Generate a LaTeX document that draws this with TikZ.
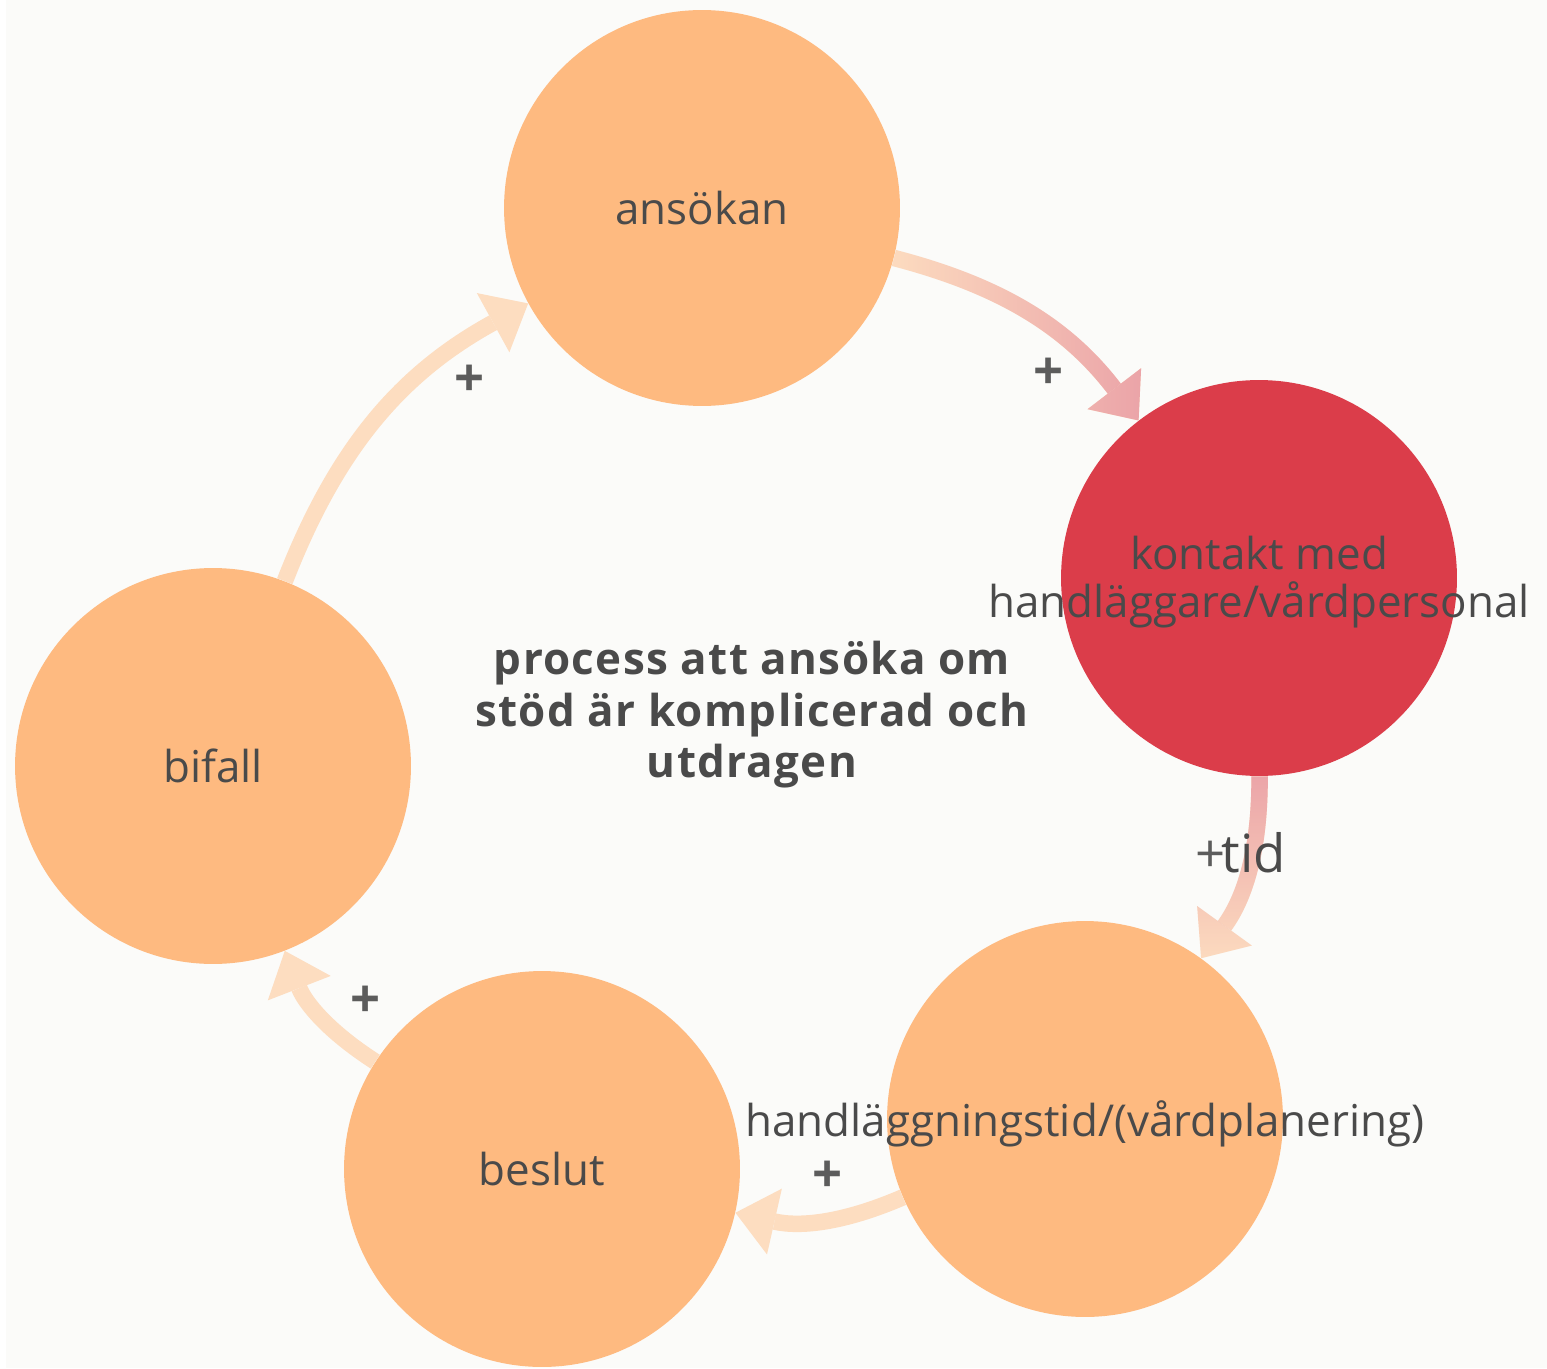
\documentclass[tikz,border=0pt]{standalone}
\usepackage{fontspec}
\setmainfont{Open Sans}
\usetikzlibrary{arrows.meta,fadings}

\definecolor{bgc}{HTML}{FBFBF9}
\definecolor{orangec}{HTML}{FEBA80}
\definecolor{redc}{HTML}{DB3D4A}
\definecolor{peachc}{HTML}{FDDDC0}
\definecolor{pinkc}{HTML}{EBA3A8}
\definecolor{textc}{HTML}{4A4A4A}
\definecolor{plusc}{HTML}{5C5C5C}

\begin{document}
\begin{tikzpicture}[x=0.02cm,y=-0.02cm,
    main node/.style={circle,fill=orangec,minimum size=7.92cm,inner sep=0pt},
    txt/.style={text=textc,font=\fontsize{25}{27.2}\selectfont,align=center},
    plus node/.style={text=plusc,font=\fontsize{30}{32}\selectfont\bfseries},
    conn/.style={line width=0.33cm,-{Triangle[length=0.8cm,width=1.35cm,line width=0pt]}}]

    \useasboundingbox (0,0) rectangle (1547,1368);
    \fill[bgc] (6,0) rectangle (1547,1368);

    \node[main node, label={[txt]center:ansökan}] (1) at (702,208) {};
    \node[main node, fill=redc, label={[txt,yshift=-2.5pt]center:{kontakt med\\handläggare/vårdpersonal}}] (2) at (1259,578) {};
    \node[main node, label={[txt,yshift=-2.5pt]center:handläggningstid/(vårdplanering)}] (3) at (1085,1119) {};
    \node[main node, label={[txt]center:beslut}] (4) at (542,1169) {};
    \node[main node, label={[txt]center:bifall}] (5) at (213,766) {};

    \node[txt, font=\fontsize{25}{29.3}\selectfont\bfseries\addfontfeatures{LetterSpace=3}] (6) at (752,715) {process att ansöka om\\stöd är komplicerad och\\utdragen};

    \path[conn, draw=peachc, fill=peachc]
        (1) edge[bend left=19] (2)
        (2) edge[bend left=18] (3)
        (3) edge[bend left=18] (4)
        (4) edge[bend left=18] (5)
        (5) edge[bend left=20] (1)
    ;
    \path[conn, draw=pinkc, fill=pinkc]
        (1) edge[bend left=19, path fading=west] (2)
        (2) edge[bend left=18, path fading=south] (3)
    ;

    \node[plus node] (7) at (1049,374) {+};
    \node[plus node, font=\fontsize{30}{32}\selectfont] (8) at (1211,857) {+};
    \node[txt, font=\fontsize{30}{32}\selectfont] (9) at (1254,853) {tid};
    \node[plus node] (10) at (828,1177) {+};
    \node[plus node] (11) at (366,1002) {+};
    \node[plus node] (12) at (470,381) {+};
\end{tikzpicture}
\end{document}
